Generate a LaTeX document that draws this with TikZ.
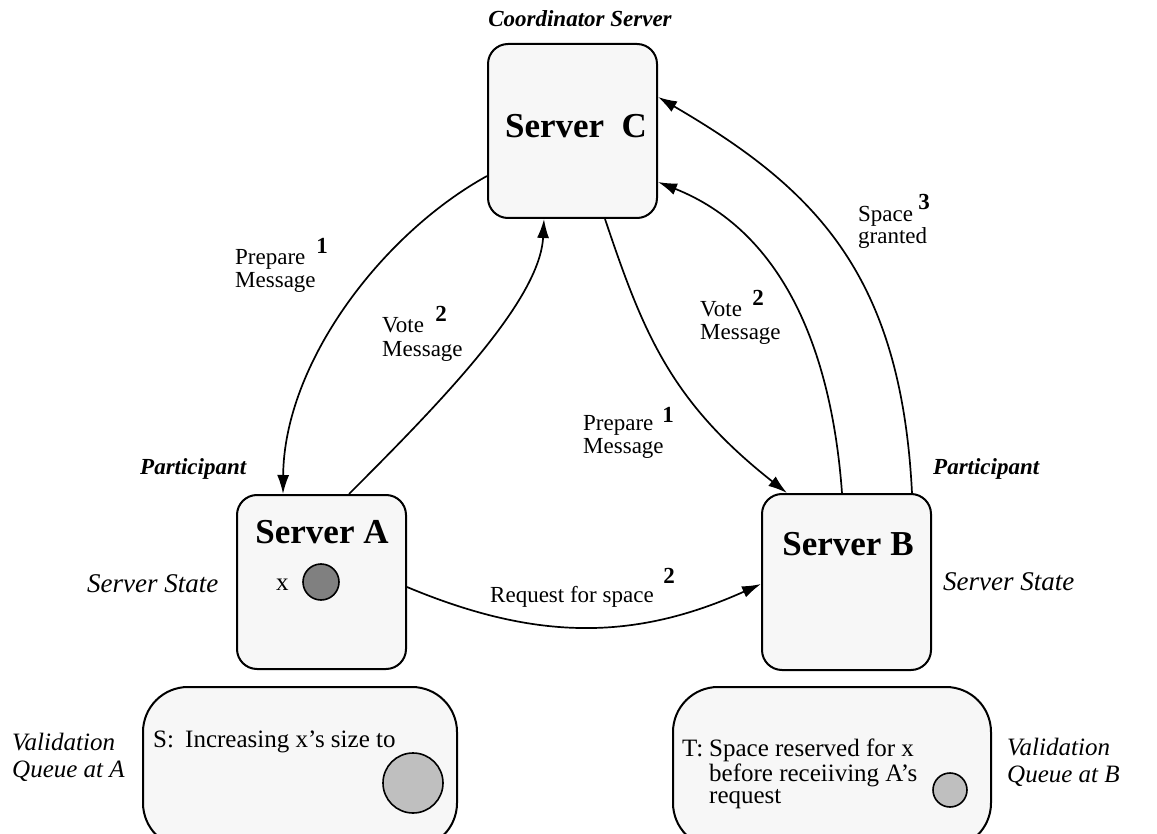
\documentclass[tikz,border=0pt]{standalone}
\usepackage{fontspec}
\setmainfont{Liberation Serif}
\usetikzlibrary{arrows.meta,calc}
\tikzset{
  box/.style={draw, line width=2pt, fill=black!3, rounded corners=20pt, inner sep=0pt},
  qbox/.style={draw, line width=2pt, fill=black!3, rounded corners=45pt, inner sep=0pt},
  conn/.style={line width=1.7pt},
  arr/.style={conn, -{Latex[length=19pt,width=12pt]}},
  lbl/.style={font=\fontsize{23}{23}\selectfont, inner sep=0pt, anchor=base west},
  num/.style={font=\fontsize{23}{23}\selectfont\bfseries, inner sep=0pt},
  srv/.style={font=\fontsize{35}{35}\selectfont\bfseries, inner sep=0pt, anchor=base},
  role/.style={font=\fontsize{23}{23}\selectfont\bfseries\itshape, inner sep=0pt, anchor=base west},
  state/.style={font=\fontsize{27}{27}\selectfont\itshape, inner sep=0pt, anchor=base west},
  qlbl/.style={font=\fontsize{25}{25}\selectfont\itshape, inner sep=0pt, anchor=base west},
  qtxt/.style={font=\fontsize{25}{25}\selectfont, inner sep=0pt, anchor=base west},
  dot/.style={draw, line width=1.6pt, circle, inner sep=0pt}
}
\begin{document}
\begin{tikzpicture}[x=1pt, y=-1pt]
\useasboundingbox[fill=white] (0,0) rectangle (1157,834);
\begin{scope}
\clip (0,0) rectangle (1157,834);
% boxes
\node[box, minimum width=169pt, minimum height=174pt] (C) at (572.5,131) {};
\node[box, minimum width=169pt, minimum height=174pt] (A) at (321.5,582) {};
\node[box, minimum width=169pt, minimum height=176pt] (B) at (846.5,582) {};
\node[qbox, minimum width=314pt, minimum height=161pt] (QA) at (300,767.5) {};
\node[qbox, minimum width=318pt, minimum height=161pt] (QB) at (832,767.5) {};
\end{scope}

% titles
\node[srv] (tC) at (576,138) {Server\ \ C};
\node[srv] (tA) at (322,543) {Server A};
\node[srv] (tB) at (848,555) {Server B};
\node[font=\fontsize{23}{23}\selectfont\bfseries\itshape, inner sep=0pt, anchor=base] (coord) at (580,27) {Coordinator Server};
\node[role] (pA) at (140,474) {Participant};
\node[role] (pB) at (933,474) {Participant};
\node[state] (sA) at (87,592) {Server State};
\node[state] (sB) at (943,590) {Server State};

% state of A
\node[qtxt] (xA) at (276,590) {x};
\node[dot, fill=black!50, minimum size=36pt] (dA) at (321,582) {};

% validation queues
\node[qlbl] (vA1) at (12,750) {Validation};
\node[qlbl] (vA2) at (12,777) {Queue at A};
\node[qlbl] (vB1) at (1007,755) {Validation};
\node[qlbl] (vB2) at (1007,782) {Queue at B};
\node[qtxt] (sT) at (153,747) {S:};
\node[qtxt] (sT2) at (185,747) {Increasing x’s size to};
\node[dot, fill=black!25, minimum size=60pt] (cA) at (413,783) {};
\node[font=\fontsize{25}{22.5}\selectfont, inner sep=0pt, anchor=north west] (tT) at (682,739)
  {\begin{tabular}{@{}l@{\hspace{6pt}}l@{}}T:&Space reserved for x\\&before receiiving A’s\\&request\end{tabular}};
\node[dot, fill=black!25, minimum size=34pt] (cB) at (950,790) {};

% connectors
\draw[arr] ($(C.north west)+(0,133)$) .. controls (382,234) and (284,363) .. ($(A.north west)+(47,0)$);
\draw[arr] ($(A.north west)+(113,0)$) .. controls (442,401) and (540,300) .. ($(C.south west)+(57,0)$);
\draw[arr] ($(C.south west)+(118,0)$) .. controls (643,332) and (670,401) .. ($(B.north west)+(26,0)$);
\draw[arr] ($(B.north west)+(81,0)$) .. controls (831,343) and (779,230) .. ($(C.north east)+(0,139)$);
\draw[arr] ($(B.north west)+(151,0)$) .. controls (901,273) and (814,188) .. ($(C.north east)+(0,54)$);
\draw[arr] ($(A.north east)+(0,93)$) .. controls (536,641) and (634,641) .. ($(B.north west)+(0,91)$);

% connector labels
\node[lbl] (l1a) at (235,265) {Prepare};
\node[lbl] (l1b) at (235,288) {Message};
\node[num] (n1) at (322,246) {1};
\node[lbl] (l2a) at (382,333) {Vote};
\node[lbl] (l2b) at (382,356) {Message};
\node[num] (n2) at (441,314) {2};
\node[lbl] (l3a) at (583,430) {Prepare};
\node[lbl] (l3b) at (583,453) {Message};
\node[num] (n3) at (668,415) {1};
\node[lbl] (l4a) at (700,317) {Vote};
\node[lbl] (l4b) at (700,340) {Message};
\node[num] (n4) at (758,298) {2};
\node[lbl] (l5a) at (858,222) {Space};
\node[lbl] (l5b) at (858,244) {granted};
\node[num] (n5) at (924,202) {3};
\node[lbl] (l6) at (490,602) {Request for space};
\node[num] (n6) at (669,576) {2};
\end{tikzpicture}
\end{document}
